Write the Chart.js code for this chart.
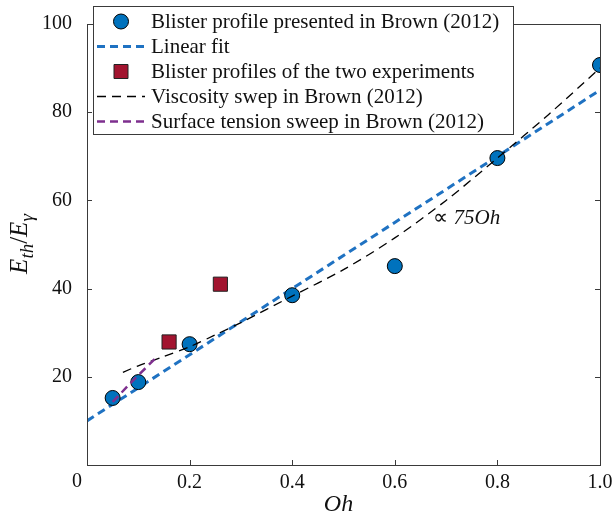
<!DOCTYPE html>
<html>
<head>
<meta charset="utf-8">
<script src="https://cdn.jsdelivr.net/npm/chart.js@4/dist/chart.umd.min.js"></script>
<style>
  html, body { margin: 0; padding: 0; background: #fff; }
  #wrap { width: 614px; height: 517px; position: relative; }
</style>
</head>
<body>
<div id="wrap"><canvas id="chart"></canvas></div>
<script>
// Blister profiles presented in Brown (2012)
const brownOh = [0.05, 0.1, 0.2, 0.4, 0.6, 0.8, 1.0];
const brownE = [15.2, 18.8, 27.4, 38.5, 45.1, 69.6, 90.7];

// Blister profiles of the two experiments
const expOh = [0.16, 0.26];
const expE = [27.9, 41.0];

// Linear fit (E = 10 + 75 Oh)
const fitOh = [0, 1.0];
const fitE = [10, 85];

// Viscosity sweep in Brown (2012)
const viscOh = [0.07, 0.1, 0.15, 0.2, 0.25, 0.3, 0.4, 0.5, 0.6, 0.7, 0.8, 0.9, 1.0];
const viscE = [21.0, 22.5, 24.6, 26.8, 29.5, 32.3, 38.3, 44.3, 51.5, 60.0, 69.6, 79.5, 90.0];

// Surface tension sweep in Brown (2012)
const surfOh = [0.05, 0.09, 0.137];
const surfE = [14.3, 19.2, 24.6];

const xTicks = [0, 0.2, 0.4, 0.6, 0.8, 1.0];
const yTicks = [0, 20, 40, 60, 80, 100];

const SERIF = '"Liberation Serif", "Times New Roman", serif';
const BLUE = '#0072BD';
const FITBLUE = '#1f72c2';
const RED = '#A2142F';
const PURPLE = '#7E2F8E';
const AXIS = '#3a3a3a';

function pts(xs, ys) {
    return xs.map((x, i) => ({ x: x, y: ys[i] }));
}

const datasets = [
    {
        label: 'Blister profile presented in Brown (2012)',
        data: pts(brownOh, brownE),
        showLine: false,
        pointStyle: 'circle',
        pointRadius: 7.5,
        backgroundColor: BLUE,
        borderColor: '#000',
        borderWidth: 1,
        order: 3
    },
    {
        label: 'Linear fit',
        data: pts(fitOh, fitE),
        showLine: true,
        pointRadius: 0,
        borderColor: FITBLUE,
        borderWidth: 3,
        borderDash: [8, 5],
        order: 5
    },
    {
        label: 'Blister profiles of the two experiments',
        data: pts(expOh, expE),
        showLine: false,
        pointStyle: 'rect',
        pointRadius: 10,
        backgroundColor: RED,
        borderColor: '#222',
        borderWidth: 1,
        order: 3
    },
    {
        label: 'Viscosity swep in Brown (2012)',
        data: pts(viscOh, viscE),
        showLine: true,
        pointRadius: 0,
        borderColor: '#000',
        borderWidth: 1.3,
        borderDash: [9, 6],
        tension: 0.3,
        order: 2
    },
    {
        label: 'Surface tension sweep in Brown (2012)',
        data: pts(surfOh, surfE),
        showLine: true,
        pointRadius: 0,
        borderColor: PURPLE,
        borderWidth: 2.5,
        borderDash: [8, 5],
        order: 1
    }
];

// Box, inward ticks, legend, titles and annotation
const decorPlugin = {
    id: 'decor',
    afterDatasetsDraw(chart) {
        const ctx = chart.ctx;
        const a = chart.chartArea;
        const xs = chart.scales.x;
        const ys = chart.scales.y;
        ctx.save();

        // axes box
        ctx.strokeStyle = AXIS;
        ctx.lineWidth = 1;
        ctx.strokeRect(a.left + 0.5, a.top + 0.5, a.right - a.left, a.bottom - a.top);

        // inward ticks on all sides
        ctx.beginPath();
        xTicks.forEach(v => {
            const px = Math.round(xs.getPixelForValue(v)) + 0.5;
            ctx.moveTo(px, a.bottom); ctx.lineTo(px, a.bottom - 5);
            ctx.moveTo(px, a.top); ctx.lineTo(px, a.top + 5);
        });
        yTicks.forEach(v => {
            const py = Math.round(ys.getPixelForValue(v)) + 0.5;
            ctx.moveTo(a.left, py); ctx.lineTo(a.left + 5, py);
            ctx.moveTo(a.right, py); ctx.lineTo(a.right - 5, py);
        });
        ctx.stroke();

        // shared origin label
        ctx.fillStyle = '#111';
        ctx.font = '20px ' + SERIF;
        ctx.textAlign = 'center';
        ctx.textBaseline = 'middle';
        ctx.fillText('0', a.left - 10, a.bottom + 17);

        // annotation
        const ax = xs.getPixelForValue(0.675);
        const ay = ys.getPixelForValue(56);
        ctx.textAlign = 'left';
        ctx.font = '21px ' + SERIF;
        ctx.fillText('\u221D ', ax, ay);
        const w0 = ctx.measureText('\u221D ').width;
        ctx.font = 'italic 21px ' + SERIF;
        ctx.fillText('75Oh', ax + w0, ay);

        // x title
        ctx.font = 'italic 24px ' + SERIF;
        ctx.textAlign = 'center';
        ctx.fillText('Oh', (a.left + a.right) / 2 - 5, 505);

        // y title: E_th / E_gamma, rotated
        ctx.save();
        ctx.translate(19, 244);
        ctx.rotate(-Math.PI / 2);
        const parts = [
            { t: 'E', f: 'italic 25px ', dy: 0 },
            { t: 'th', f: 'italic 19px ', dy: 6 },
            { t: '/', f: '25px ', dy: 0 },
            { t: 'E', f: 'italic 25px ', dy: 0 },
            { t: '\u03B3', f: 'italic 19px ', dy: 6 }
        ];
        let total = 0;
        parts.forEach(p => { ctx.font = p.f + SERIF; p.w = ctx.measureText(p.t).width; total += p.w; });
        let cx = -total / 2;
        ctx.textAlign = 'left';
        ctx.textBaseline = 'alphabetic';
        parts.forEach(p => {
            ctx.font = p.f + SERIF;
            ctx.fillText(p.t, cx, 8 + p.dy);
            cx += p.w;
        });
        ctx.restore();

        // legend
        const lx = 93, ly = 6, lw = 420, lh = 128;
        ctx.fillStyle = '#fff';
        ctx.fillRect(lx, ly, lw, lh);
        ctx.strokeStyle = AXIS;
        ctx.strokeRect(lx + 0.5, ly + 0.5, lw, lh);
        const rowY = [21.5, 46.5, 71.5, 96.5, 121.5];
        datasets.forEach((ds, i) => {
            const y = rowY[i];
            if (ds.showLine) {
                ctx.save();
                ctx.strokeStyle = ds.borderColor;
                ctx.lineWidth = ds.borderWidth;
                ctx.setLineDash(ds.borderDash);
                ctx.beginPath();
                ctx.moveTo(97, y); ctx.lineTo(145, y);
                ctx.stroke();
                ctx.restore();
            } else {
                ctx.fillStyle = ds.backgroundColor;
                ctx.strokeStyle = ds.borderColor;
                ctx.lineWidth = 1;
                ctx.beginPath();
                if (ds.pointStyle === 'rect') {
                    ctx.rect(121 - 7, y - 7, 14, 14);
                } else {
                    ctx.arc(121, y, 7.5, 0, Math.PI * 2);
                }
                ctx.fill();
                ctx.stroke();
            }
            ctx.fillStyle = '#111';
            ctx.font = '21px ' + SERIF;
            ctx.textAlign = 'left';
            ctx.textBaseline = 'middle';
            ctx.fillText(ds.label, 151, y + 1);
        });

        ctx.restore();
    }
};

new Chart(document.getElementById('chart'), {
    type: 'scatter',
    data: { datasets: datasets },
    options: {
        responsive: true,
        maintainAspectRatio: false,
        animation: false,
        devicePixelRatio: 1,
        layout: { padding: { top: 24, right: 14, left: 0, bottom: 0 } },
        plugins: {
            legend: { display: false },
            tooltip: { enabled: false },
            title: { display: false }
        },
        scales: {
            x: {
                type: 'linear',
                min: 0,
                max: 1,
                afterFit: (s) => { s.height = 52; },
                afterBuildTicks: (s) => { s.ticks = xTicks.map(v => ({ value: v })); },
                grid: { display: false },
                border: { display: false },
                ticks: {
                    padding: -2,
                    color: '#111',
                    font: { family: SERIF, size: 20 },
                    maxRotation: 0,
                    callback: (v) => v === 0 ? '' : Number(v).toFixed(1)
                }
            },
            y: {
                type: 'linear',
                min: 0,
                max: 100,
                afterFit: (s) => { s.width = 87; },
                afterBuildTicks: (s) => { s.ticks = yTicks.map(v => ({ value: v })); },
                grid: { display: false },
                border: { display: false },
                ticks: {
                    padding: 7,
                    color: '#111',
                    font: { family: SERIF, size: 20 },
                    callback: (v) => v === 0 ? '' : String(v)
                }
            }
        }
    },
    plugins: [decorPlugin]
});
</script>
</body>
</html>
